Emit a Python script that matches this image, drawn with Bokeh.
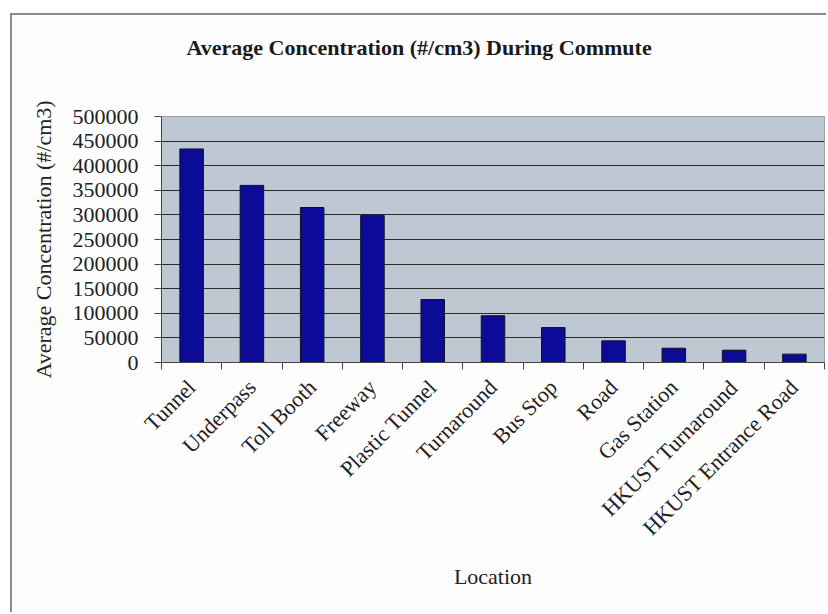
from math import pi
from bokeh.plotting import figure
from bokeh.models import FixedTicker, Range1d, Title
from bokeh.embed import file_html
from bokeh.resources import INLINE

categories = ["Tunnel", "Underpass", "Toll Booth", "Freeway", "Plastic Tunnel",
              "Turnaround", "Bus Stop", "Road", "Gas Station",
              "HKUST Turnaround", "HKUST Entrance Road"]
concentration = [434000, 360000, 315000, 299000, 128000, 95000, 71000,
                 44000, 29000, 25000, 17000]
y_ticks = [0, 50000, 100000, 150000, 200000, 250000, 300000, 350000,
           400000, 450000, 500000]

FONT = "Liberation Serif"

positions = list(range(1, len(categories) + 1))
boundaries = [i + 0.5 for i in range(0, len(categories) + 1)]

p = figure(width=816, height=599, output_backend="svg", toolbar_location=None,
           x_range=Range1d(0.5, len(categories) + 0.5), y_range=Range1d(0, 500000),
           min_border_left=149, min_border_right=4, min_border_top=101,
           min_border_bottom=252,
           title="Average Concentration (#/cm3) During Commute")

# outer chart frame (the chart box of the original, cropped at right/bottom)
p.styles = {"margin-left": "10px", "margin-top": "13px",
            "border-left": "2px solid #8a8a8a", "border-top": "2px solid #8a8a8a"}

p.background_fill_color = "#BEC8D2"
p.border_fill_color = "#FDFDFD"
p.outline_line_color = "#9AA3AC"
p.outline_line_width = 1

p.vbar(x=positions, top=concentration, width=0.39, bottom=0,
       fill_color="#0B0B98", line_color="#111122", line_width=1)

# spacer between the title and the plot area
p.add_layout(Title(text=" ", text_font_size="1px", standoff=54), "above")

# title
p.title.text_font = FONT
p.title.text_font_size = "22px"
p.title.text_font_style = "bold"
p.title.text_color = "#1a1a1a"
p.title.align = "left"
p.title.offset = 25
p.title.standoff = 0

# x axis
xa = p.xaxis[0]
xa.ticker = FixedTicker(ticks=positions, minor_ticks=boundaries)
xa.major_label_overrides = {i: c for i, c in zip(positions, categories)}
xa.major_label_orientation = pi / 4
xa.major_tick_out = 0
xa.major_tick_in = 0
xa.minor_tick_out = 7
xa.minor_tick_in = 0
xa.minor_tick_line_color = "#444444"
xa.axis_line_color = "#444444"
xa.major_label_text_font = FONT
xa.major_label_text_font_size = "22px"
xa.major_label_text_color = "#222222"
xa.major_label_standoff = 14
xa.axis_label = "Location"
xa.axis_label_text_font = FONT
xa.axis_label_text_font_size = "22px"
xa.axis_label_text_font_style = "normal"
xa.axis_label_text_color = "#222222"
xa.axis_label_standoff = 12

# y axis
ya = p.yaxis[0]
ya.ticker = FixedTicker(ticks=y_ticks)
ya.formatter.use_scientific = False
ya.major_tick_out = 7
ya.major_tick_in = 0
ya.minor_tick_out = 0
ya.minor_tick_in = 0
ya.major_tick_line_color = "#444444"
ya.axis_line_color = "#444444"
ya.major_label_text_font = FONT
ya.major_label_text_font_size = "22px"
ya.major_label_text_color = "#222222"
ya.major_label_standoff = 16
ya.axis_label = "Average Concentration (#/cm3)"
ya.axis_label_text_font = FONT
ya.axis_label_text_font_size = "22px"
ya.axis_label_text_font_style = "normal"
ya.axis_label_text_color = "#222222"
ya.axis_label_standoff = 14

# grid
p.xgrid.visible = False
p.ygrid.ticker = FixedTicker(ticks=y_ticks[1:-1])
p.ygrid.grid_line_color = "#2a2a2a"
p.ygrid.grid_line_width = 1.2

open("out.html", "w").write(file_html(p, INLINE))
